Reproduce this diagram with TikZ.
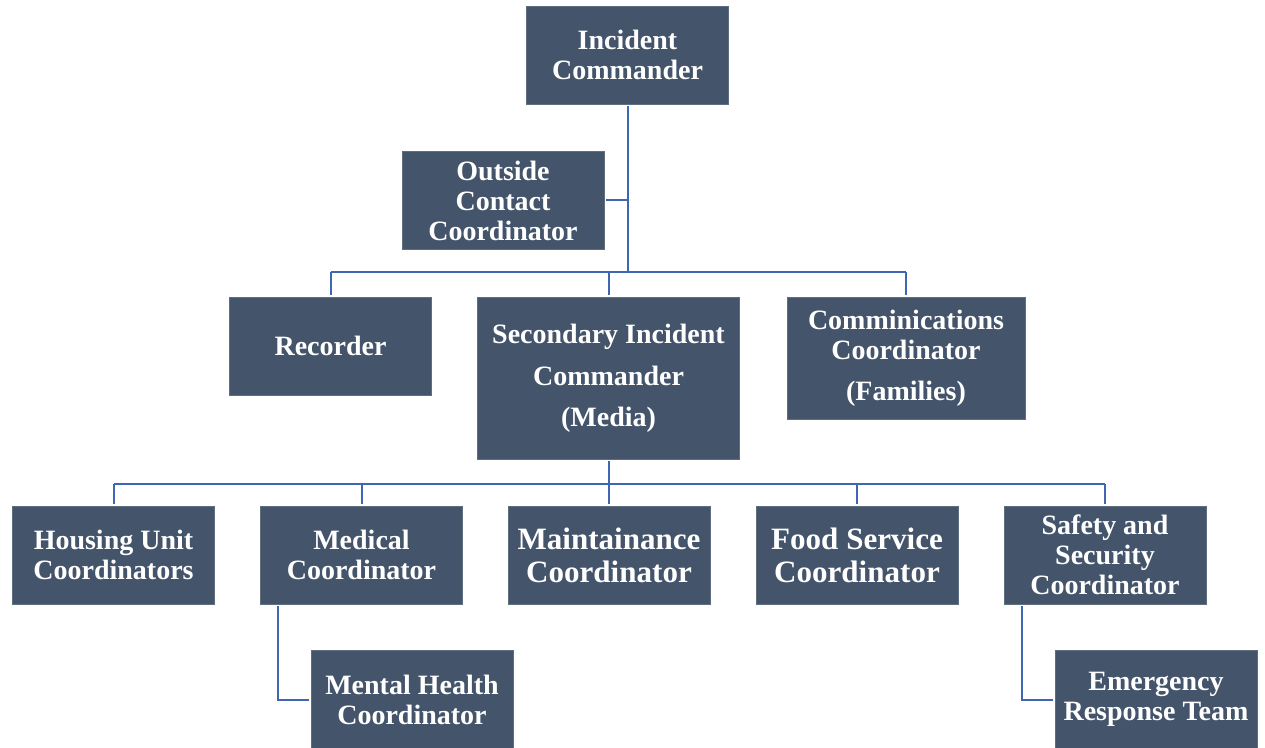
\documentclass[tikz,border=0pt]{standalone}
\usepackage{fontspec}
\setmainfont{Liberation Serif}
\usetikzlibrary{calc}
\definecolor{boxfill}{HTML}{44546A}
\definecolor{linkblue}{HTML}{3E66B3}
\begin{document}
\begin{tikzpicture}[x=0.75pt, y=-0.75pt,
		box/.style={rectangle, fill=boxfill, draw=boxfill!85!white, line width=0.6pt, text=white, align=center, font=\bfseries\fontsize{21}{22.5}\selectfont, minimum width=151.5pt, minimum height=73.5pt, inner sep=0pt},
		bigtext/.style={font=\bfseries\fontsize{23.3}{24.75}\selectfont},
		link/.style={draw=linkblue, line width=1.5pt}]
		    \useasboundingbox (0,0) rectangle (1265,748);
		    % top levels
		    \node[box] (ic) at (627.5, 55) {Incident\\Commander};
		    \node[box] (occ) at (503, 200.5) {Outside\\Contact\\Coordinator};
		    \node[box] (rec) at (330.5, 346) {Recorder};
		    \node[box, minimum width=197pt, minimum height=121.5pt] (sic) at (608.5, 378) {Secondary Incident\\[9pt]Commander\\[8pt](Media)};
		    \node[box, minimum width=178.5pt, minimum height=91.5pt] (comm) at (906, 358) {Comminications\\Coordinator\\[8pt](Families)};
		    % coordinators
		    \node[box] (hous) at (113.5, 555) {Housing Unit\\Coordinators};
		    \node[box] (med) at (361.5, 555) {Medical\\Coordinator};
		    \node[box, bigtext] (main) at (609, 555) {Maintainance\\Coordinator};
		    \node[box, bigtext] (food) at (857, 555) {Food Service\\Coordinator};
		    \node[box] (safe) at (1105, 555) {Safety and\\Security\\Coordinator};
		    \node[box] (mh) at (412, 699.5) {Mental Health\\Coordinator};
		    \node[box] (ert) at (1156, 699.5) {Emergency\\Response Team};

		    \coordinate (barA) at (0, 272);
		    \coordinate (barB) at (0, 484);
		    \coordinate (medleg) at ($(med.south west)+(18,2)$);
		    \coordinate (safeleg) at ($(safe.south west)+(18,2)$);

		    % connectors
		    \draw[link] ($(ic.south)+(0,2)$) -- (ic |- barA);
		    \draw[link] ($(occ.east)+(2,0)$) -- (occ.east -| ic);
		    \draw[link] (rec |- barA) -- (comm |- barA);
		    \foreach \n in {rec, sic, comm} {
		       \draw[link] (\n |- barA) -- ($(\n.north)+(0,-2)$);
		       }
		    \draw[link] ($(sic.south)+(0,2)$) -- (sic |- barB);
		    \draw[link] (hous |- barB) -- (safe |- barB);
		    \foreach \n in {hous, med, main, food, safe} {
		       \draw[link] (\n |- barB) -- ($(\n.north)+(0,-2)$);
		       }
		    \draw[link] (medleg) |- ($(mh.west)+(-2,0)$);
		    \draw[link] (safeleg) |- ($(ert.west)+(-2,0)$);
		\end{tikzpicture}
\end{document}
